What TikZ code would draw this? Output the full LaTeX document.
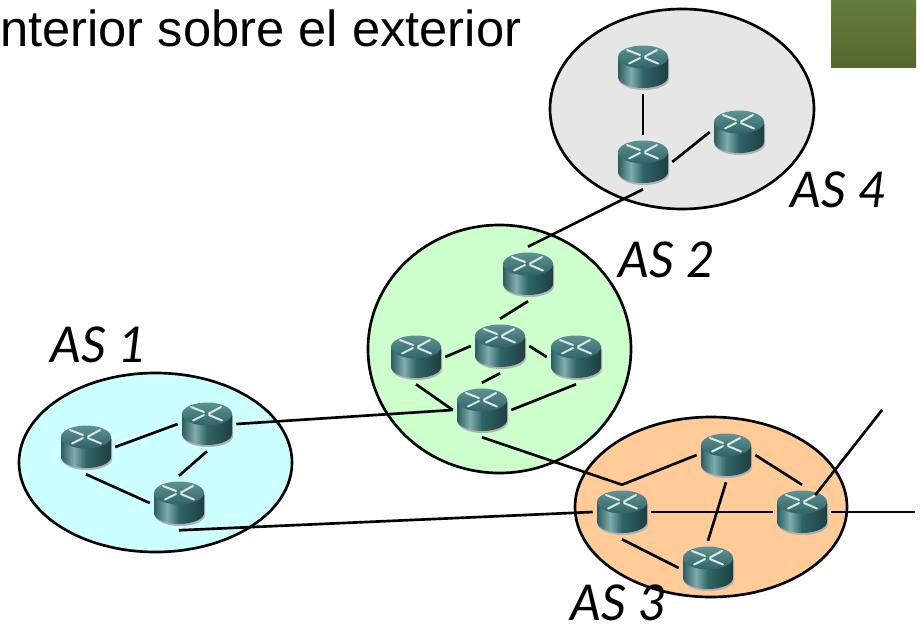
\documentclass[tikz,border=0pt]{standalone}
\usepackage{fontspec}
\usetikzlibrary{arrows.meta,shapes.geometric}
\setmainfont{Liberation Sans}
\newfontfamily\aslabelfont{Lato}

\definecolor{as1fill}{HTML}{CCFFFF}
\definecolor{as2fill}{HTML}{CCFFCC}
\definecolor{as3fill}{HTML}{FFCC99}
\definecolor{as4fill}{HTML}{E6E6E6}
\definecolor{bodydark}{HTML}{1F3F42}
\definecolor{bodymid}{HTML}{2F6466}
\definecolor{bodyleft}{HTML}{2C5C60}
\definecolor{bodylight}{HTML}{80ACAC}
\definecolor{topupper}{HTML}{5F9295}
\definecolor{toplower}{HTML}{2E6468}
\definecolor{armcolor}{HTML}{DCE8E2}
\definecolor{blockupper}{HTML}{667B3D}
\definecolor{blocklower}{HTML}{55662F}

\pgfdeclarehorizontalshading{routerbody}{100bp}{
  color(0bp)=(bodyleft);
  color(25bp)=(bodyleft);
  color(38bp)=(bodylight);
  color(50bp)=(bodymid);
  color(75bp)=(bodydark);
  color(100bp)=(bodydark)}

\tikzset{
  asarea/.style={draw=black, line width=2pt},
  rt/.style={ellipse, minimum width=43.5pt, minimum height=40.5pt, inner sep=0pt},
  link/.style={line width=2pt},
  aslabel/.style={font=\aslabelfont\itshape\fontsize{37}{37}\selectfont, inner sep=0pt},
  arm/.style={draw=armcolor, line width=1.5pt, line cap=round},
  router/.pic={
    \fill[black!30] (-24,-8) -- (-24,12) arc[start angle=180, end angle=0, x radius=25, y radius=11] -- (26,-8) -- cycle;
    \shade[shading=routerbody] (-25,-10) -- (-25,10) arc[start angle=180, end angle=0, x radius=25, y radius=11] -- (25,-10) -- cycle;
    \shade[top color=topupper, bottom color=toplower] (0,-10) ellipse[x radius=25, y radius=11.5];
    \draw[arm] (-3,-12) -- (-16,-17);
    \draw[arm] (14,-17) -- (2,-10.5);
    \draw[arm] (-3,-9) -- (-14,-3.5);
    \draw[arm] (2,-9) -- (15,-3.5);
  }
}

\begin{document}
\begin{tikzpicture}[x=0.75pt, y=-0.75pt]
  \useasboundingbox (0,0) rectangle (922,625);

  % Title and corner block
  \node[anchor=base west, inner sep=0pt, font=\fontsize{38}{38}\selectfont] (title) at (0,46) {nterior sobre el exterior};
  \shade[top color=blockupper, bottom color=blocklower] (831,0) rectangle (916,67);

  % Define areas
  \filldraw[asarea, fill=as4fill] (682,109) ellipse[x radius=132, y radius=100];
  \filldraw[asarea, fill=as2fill] (499.5,349) ellipse[x radius=131.5, y radius=124];
  \filldraw[asarea, fill=as1fill] (155.5,462.5) ellipse[x radius=136.5, y radius=89.5];
  \filldraw[asarea, fill=as3fill] (711,507) ellipse[x radius=136, y radius=90];

  % Define routers
  \foreach \rname/\x/\y in {a/86/447, b/207/424, c/179/503,
      d/528/274, e/416/357, f/500/346, g/576/357, h/482/410,
      i/726/455, j/622/512, k/802/512, l/708/568,
      m/643/67, n/739/132, o/643/162} {
    \node[rt] (\rname) at (\x,\y) {};
    \pic at (\x,\y) {router};
  }

  % Draw links
  \draw[link] (m) -- (o);
  \draw[link] (o.east) -- (n.west);
  \draw[link] (o.south) -- (d.north);
  \draw[link] (d.south) -- (f.north);
  \draw[link] (e.east) -- (f.west);
  \draw[link] (f.east) -- (g.west);
  \draw[link] (f.south) -- (h.north);
  \draw[link] (e.south) -- (h.west);
  \draw[link] (h.east) -- (g.south);
  \draw[link] (a.east) -- (b.west);
  \draw[link] (a.south) -- (c.west);
  \draw[link] (b.south) -- (c.north);
  \draw[link] (b.east) -- (h.west);
  \draw[link] (c.south) -- (j.west);
  \draw[link] (h.south) -- (j.north);
  \draw[link] (j.north) -- (i.west);
  \draw[link] (i.east) -- (k.north);
  \draw[link] (j) -- (k);
  \draw[link] (i.south) -- (l.north);
  \draw[link] (j.south) -- (l.west);

  % Links leaving the picture
  \coordinate (exita) at (882,410);
  \coordinate (exitb) at (915,512);
  \draw[link, shorten <=16pt] (k.center) -- (exita);
  \draw[link] (k) -- (exitb);

  % Add area labels
  \node[aslabel] (as1) at (99,345) {AS 1};
  \node[aslabel] (as2) at (667,260) {AS 2};
  \node[aslabel] (as3) at (619,603) {AS 3};
  \node[aslabel] (as4) at (839,190) {AS 4};
\end{tikzpicture}
\end{document}
